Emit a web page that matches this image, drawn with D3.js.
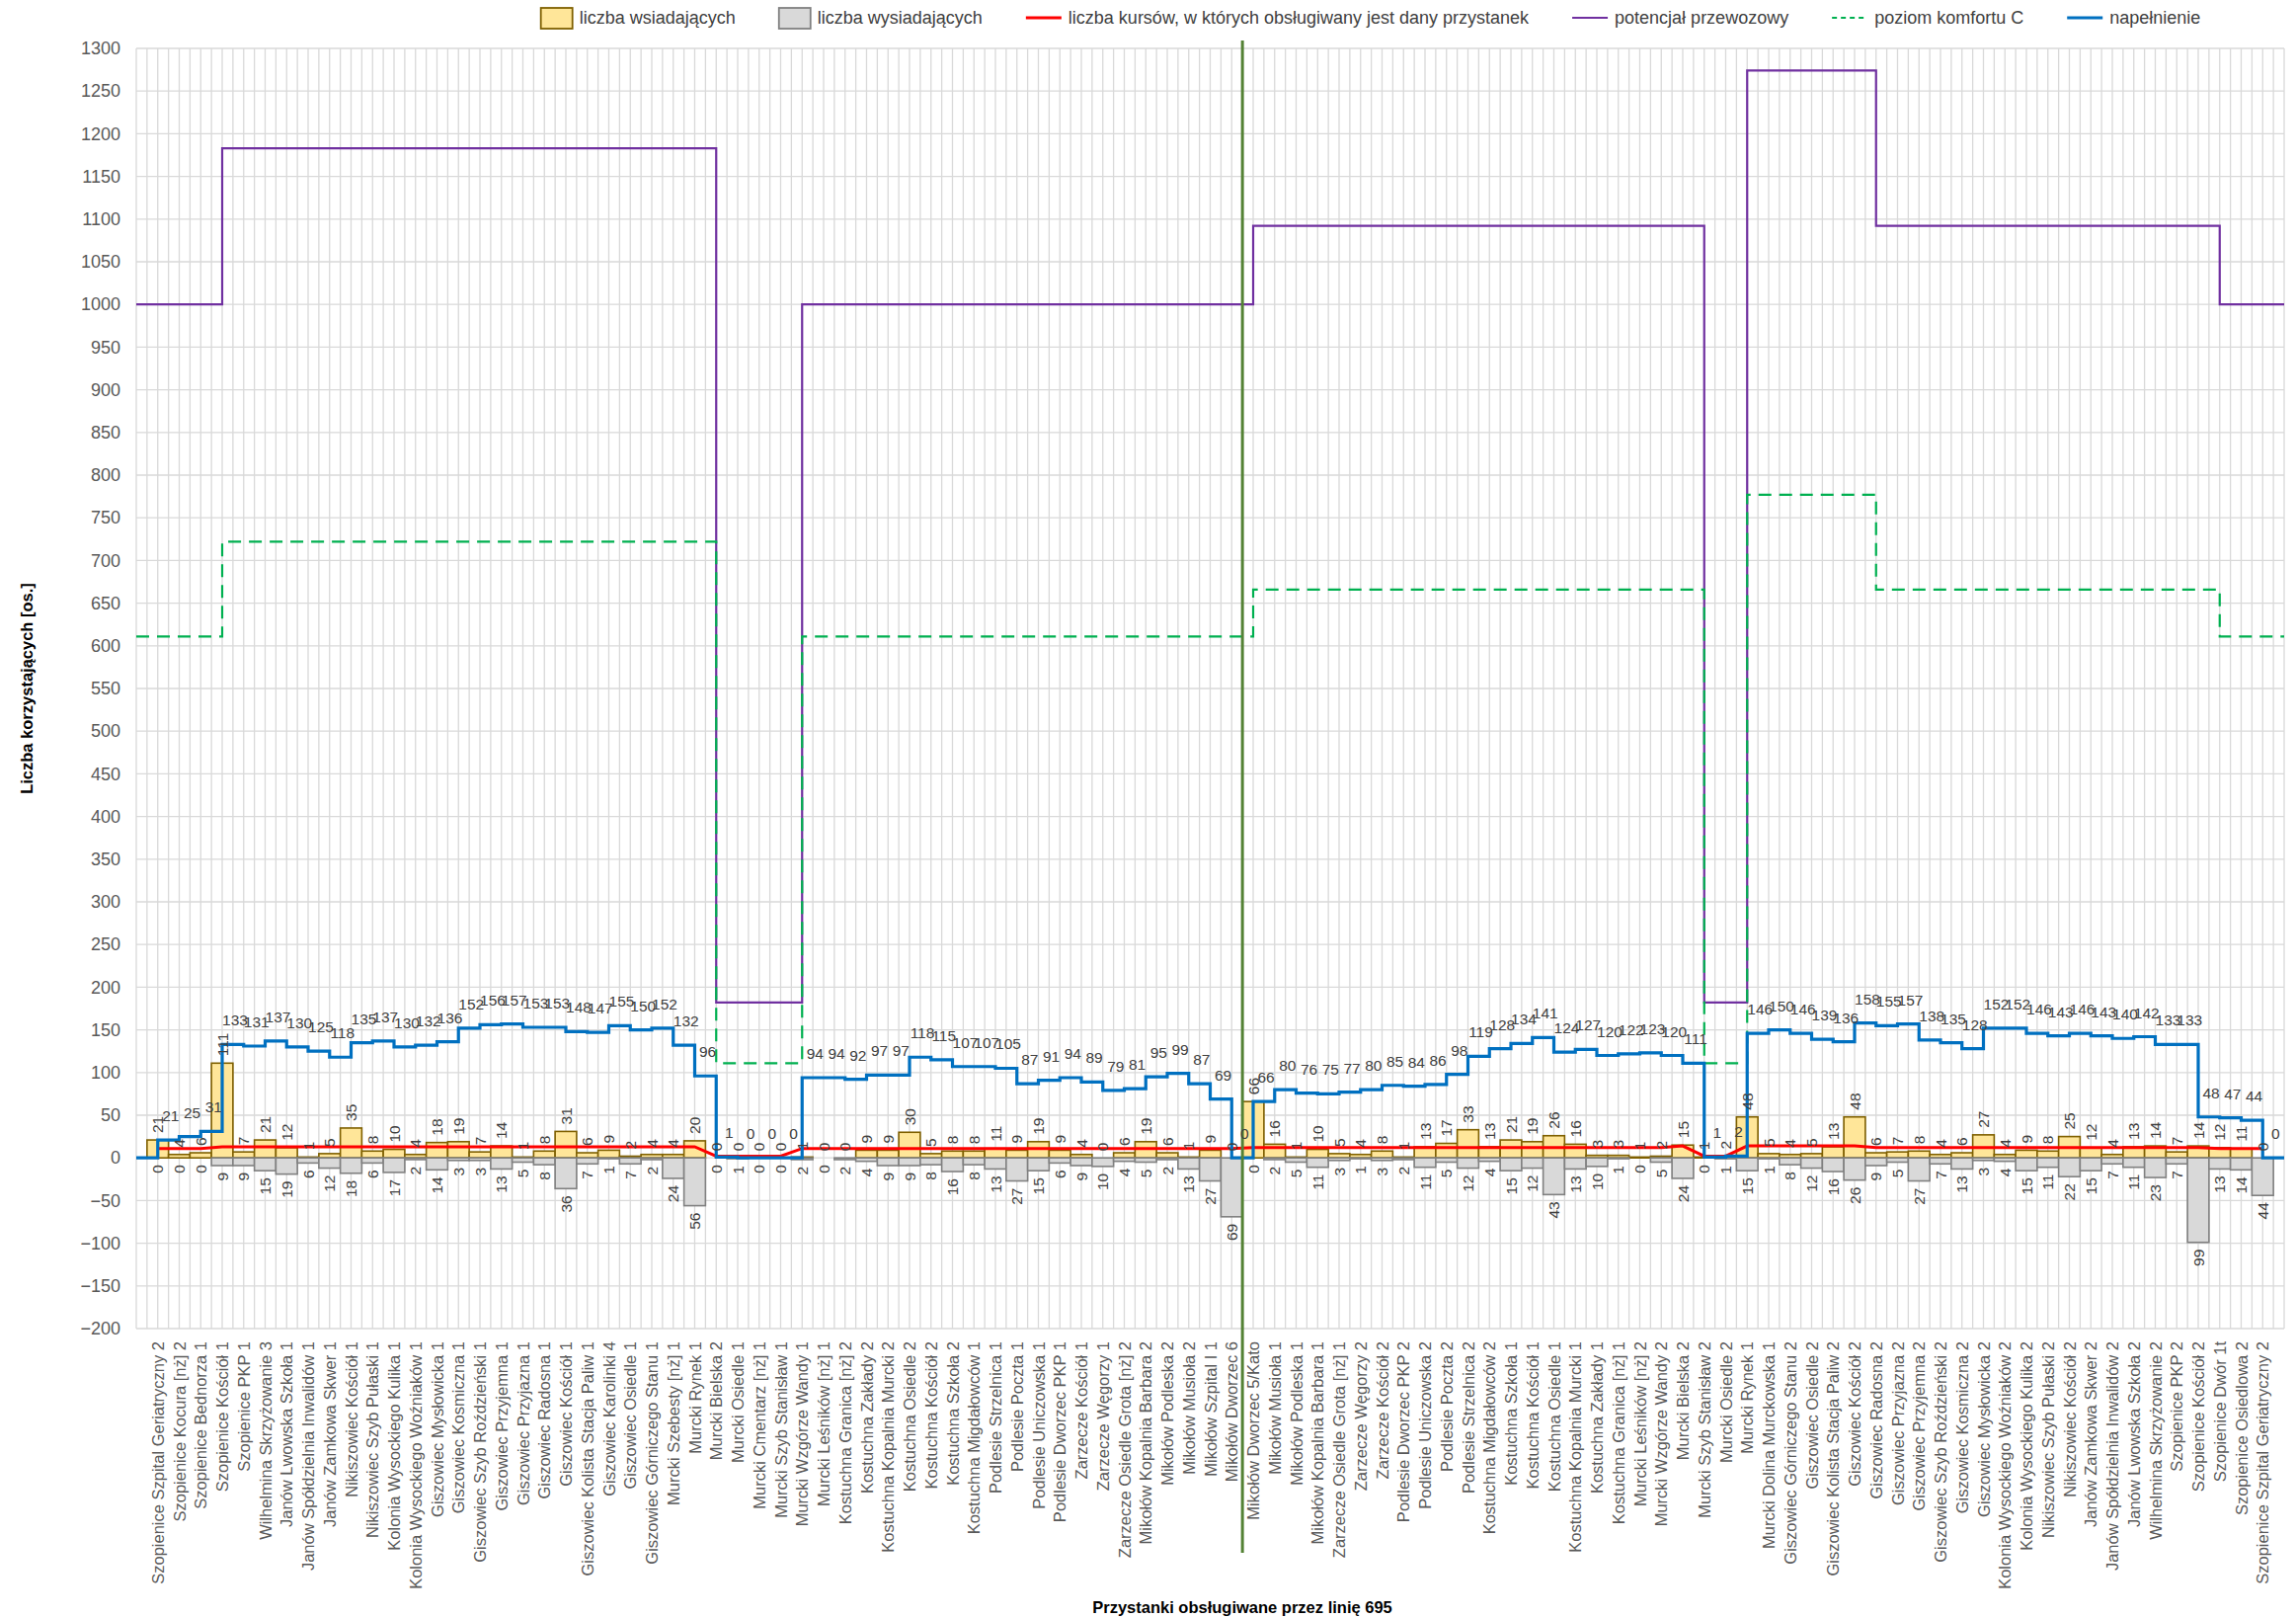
<!DOCTYPE html>
<html>
<head>
<meta charset="utf-8">
<script src="https://cdn.jsdelivr.net/npm/d3@7"></script>
<style>
  body { margin: 0; background: #fff; }
  text { font-family: "Liberation Sans", Arial, sans-serif; }
</style>
</head>
<body>
<svg id="chart"></svg>
<script>
// przystanki linii 695 (kolejnosc na osi X)
const przystanki = [
  "Szopienice Szpital Geriatryczny 2", "Szopienice Kocura [nż] 2", "Szopienice Bednorza 1", "Szopienice Kościół 1",
  "Szopienice PKP 1", "Wilhelmina Skrzyżowanie 3", "Janów Lwowska Szkoła 1", "Janów Spółdzielnia Inwalidów 1",
  "Janów Zamkowa Skwer 1", "Nikiszowiec Kościół 1", "Nikiszowiec Szyb Pułaski 1", "Kolonia Wysockiego Kulika 1",
  "Kolonia Wysockiego Woźniaków 1", "Giszowiec Mysłowicka 1", "Giszowiec Kosmiczna 1", "Giszowiec Szyb Roździeński 1",
  "Giszowiec Przyjemna 1", "Giszowiec Przyjazna 1", "Giszowiec Radosna 1", "Giszowiec Kościół 1",
  "Giszowiec Kolista Stacja Paliw 1", "Giszowiec Karolinki 4", "Giszowiec Osiedle 1", "Giszowiec Górniczego Stanu 1",
  "Murcki Szebesty [nż] 1", "Murcki Rynek 1", "Murcki Bielska 2", "Murcki Osiedle 1",
  "Murcki Cmentarz [nż] 1", "Murcki Szyb Stanisław 1", "Murcki Wzgórze Wandy 1", "Murcki Leśników [nż] 1",
  "Kostuchna Granica [nż] 2", "Kostuchna Zakłady 2", "Kostuchna Kopalnia Murcki 2", "Kostuchna Osiedle 2",
  "Kostuchna Kościół 2", "Kostuchna Szkoła 2", "Kostuchna Migdałowców 1", "Podlesie Strzelnica 1",
  "Podlesie Poczta 1", "Podlesie Uniczowska 1", "Podlesie Dworzec PKP 1", "Zarzecze Kościół 1",
  "Zarzecze Węgorzy 1", "Zarzecze Osiedle Grota [nż] 2", "Mikołów Kopalnia Barbara 2", "Mikołów Podleska 2",
  "Mikołów Musioła 2", "Mikołów Szpital I 1", "Mikołów Dworzec 6", "Mikołów Dworzec 5/Kato",
  "Mikołów Musioła 1", "Mikołów Podleska 1", "Mikołów Kopalnia Barbara 1", "Zarzecze Osiedle Grota [nż] 1",
  "Zarzecze Węgorzy 2", "Zarzecze Kościół 2", "Podlesie Dworzec PKP 2", "Podlesie Uniczowska 2",
  "Podlesie Poczta 2", "Podlesie Strzelnica 2", "Kostuchna Migdałowców 2", "Kostuchna Szkoła 1",
  "Kostuchna Kościół 1", "Kostuchna Osiedle 1", "Kostuchna Kopalnia Murcki 1", "Kostuchna Zakłady 1",
  "Kostuchna Granica [nż] 1", "Murcki Leśników [nż] 2", "Murcki Wzgórze Wandy 2", "Murcki Bielska 2",
  "Murcki Szyb Stanisław 2", "Murcki Osiedle 2", "Murcki Rynek 1", "Murcki Dolina Murckowska 1",
  "Giszowiec Górniczego Stanu 2", "Giszowiec Osiedle 2", "Giszowiec Kolista Stacja Paliw 2", "Giszowiec Kościół 2",
  "Giszowiec Radosna 2", "Giszowiec Przyjazna 2", "Giszowiec Przyjemna 2", "Giszowiec Szyb Roździeński 2",
  "Giszowiec Kosmiczna 2", "Giszowiec Mysłowicka 2", "Kolonia Wysockiego Woźniaków 2", "Kolonia Wysockiego Kulika 2",
  "Nikiszowiec Szyb Pułaski 2", "Nikiszowiec Kościół 2", "Janów Zamkowa Skwer 2", "Janów Spółdzielnia Inwalidów 2",
  "Janów Lwowska Szkoła 2", "Wilhelmina Skrzyżowanie 2", "Szopienice PKP 2", "Szopienice Kościół 2",
  "Szopienice Dwór 1t", "Szopienice Osiedlowa 2", "Szopienice Szpital Geriatryczny 2"
];

const wsiadajacy = [
  21, 4, 6, 111, 7, 21, 12, 1, 5, 35, 8, 10, 4, 18, 19, 7, 14, 1, 8, 31, 6, 9, 2, 4, 4, 20,
  0, 0, 0, 0,
  1, 0, 0, 9, 9, 30, 5, 8, 8, 11, 9, 19, 9, 4, 0, 6, 19, 6, 1, 9, 0,
  66, 16, 1, 10, 5, 4, 8, 1, 13, 17, 33, 13, 21, 19, 26, 16, 3, 3, 1, 2, 15,
  1, 2,
  48, 5, 4, 5, 13, 48, 6, 7, 8, 4, 6, 27, 4, 9, 8, 25, 12, 4, 13, 14, 7, 14, 12, 11, 0
];

const wysiadajacy = [
  0, 0, 0, 9, 9, 15, 19, 6, 12, 18, 6, 17, 2, 14, 3, 3, 13, 5, 8, 36, 7, 1, 7, 2, 24, 56,
  0, 1, 0, 0,
  2, 0, 2, 4, 9, 9, 8, 16, 8, 13, 27, 15, 6, 9, 10, 4, 5, 2, 13, 27, 69,
  0, 2, 5, 11, 3, 1, 3, 2, 11, 5, 12, 4, 15, 12, 43, 13, 10, 1, 0, 5, 24,
  0, 1,
  15, 1, 8, 12, 16, 26, 9, 5, 27, 7, 13, 3, 4, 15, 11, 22, 15, 7, 11, 23, 7, 99, 13, 14, 44
];

const napelnienieStart = 0;
const napelnienie = [
  21, 25, 31, 133, 131, 137, 130, 125, 118, 135, 137, 130, 132, 136, 152, 156, 157, 153, 153, 148, 147, 155, 150, 152, 132, 96,
  1, 0, 0, 0,
  94, 94, 92, 97, 97, 118, 115, 107, 107, 105, 87, 91, 94, 89, 79, 81, 95, 99, 87, 69, 0,
  66, 80, 76, 75, 77, 80, 85, 84, 86, 98, 119, 128, 134, 141, 124, 127, 120, 122, 123, 120, 111,
  1, 2,
  146, 150, 146, 139, 136, 158, 155, 157, 138, 135, 128, 152, 152, 146, 143, 146, 143, 140, 142, 133, 133, 48, 47, 44, 0
];

const kursy = [
  11, 11, 11,
  13, 13, 13, 13, 13, 13, 13, 13, 13, 13, 13, 13, 13, 13, 13, 13, 13, 13, 13, 13, 13, 13, 13,
  2, 2, 2, 2,
  11, 11, 11, 11, 11, 11, 11, 11, 11, 11, 11, 11, 11, 11, 11, 11, 11, 11, 11, 11, 11,
  12, 12, 12, 12, 12, 12, 12, 12, 12, 12, 12, 12, 12, 12, 12, 12, 12, 12, 12, 12, 14,
  2, 2,
  14, 14, 14, 14, 14, 14,
  12, 12, 12, 12, 12, 12, 12, 12, 12, 12, 12, 12, 12, 12, 12, 12,
  11, 11, 11
];

const potencjal = [
  1000, 1000, 1000,
  1183, 1183, 1183, 1183, 1183, 1183, 1183, 1183, 1183, 1183, 1183, 1183, 1183, 1183, 1183, 1183, 1183, 1183, 1183, 1183, 1183, 1183, 1183,
  182, 182, 182, 182,
  1000, 1000, 1000, 1000, 1000, 1000, 1000, 1000, 1000, 1000, 1000, 1000, 1000, 1000, 1000, 1000, 1000, 1000, 1000, 1000, 1000,
  1092, 1092, 1092, 1092, 1092, 1092, 1092, 1092, 1092, 1092, 1092, 1092, 1092, 1092, 1092, 1092, 1092, 1092, 1092, 1092, 1092,
  182, 182,
  1274, 1274, 1274, 1274, 1274, 1274,
  1092, 1092, 1092, 1092, 1092, 1092, 1092, 1092, 1092, 1092, 1092, 1092, 1092, 1092, 1092, 1092,
  1000, 1000, 1000
];

const komfort = [
  611, 611, 611,
  722, 722, 722, 722, 722, 722, 722, 722, 722, 722, 722, 722, 722, 722, 722, 722, 722, 722, 722, 722, 722, 722, 722,
  111, 111, 111, 111,
  611, 611, 611, 611, 611, 611, 611, 611, 611, 611, 611, 611, 611, 611, 611, 611, 611, 611, 611, 611, 611,
  666, 666, 666, 666, 666, 666, 666, 666, 666, 666, 666, 666, 666, 666, 666, 666, 666, 666, 666, 666, 666,
  111, 111,
  777, 777, 777, 777, 777, 777,
  666, 666, 666, 666, 666, 666, 666, 666, 666, 666, 666, 666, 666, 666, 666, 666,
  611, 611, 611
];

const yTicks = d3.range(-200, 1301, 50);
const podzialPrzystanek = 51;   // Mikołów Dworzec 5/Kato - pętla

const W = 2325, H = 1638;
const margin = { top: 49, right: 12, bottom: 293, left: 138 };

const svg = d3.select('#chart').attr('width', W).attr('height', H);
svg.append('rect').attr('width', W).attr('height', H).attr('fill', '#fff');

const idx = przystanki.map((d, i) => i);
const x = d3.scaleBand()
            .domain(idx)
            .range([margin.left, W - margin.right])
            .paddingInner(0)
            .paddingOuter(0.5);
const y = d3.scaleLinear()
            .domain([-200, 1300])
            .range([H - margin.bottom, margin.top]);

const bw = x.bandwidth();
const [x0, x1] = x.range();
const cx = i => x(i) + bw / 2;

// siatka
const grid = svg.append('g').attr('stroke', '#d9d9d9').attr('stroke-width', 1.3);
grid.selectAll('line.v')
    .data(d3.range(x0, x1 + 0.5, bw / 2))
    .enter().append('line')
    .attr('x1', d => d).attr('x2', d => d)
    .attr('y1', y(1300)).attr('y2', y(-200));
grid.selectAll('line.h')
    .data(yTicks)
    .enter().append('line')
    .attr('x1', x0).attr('x2', x1)
    .attr('y1', d => y(d)).attr('y2', d => y(d));

// os Y
const yAxis = svg.append('g')
   .attr('transform', `translate(${x0},0)`)
   .call(d3.axisLeft(y).tickValues(yTicks).tickFormat(d3.format('d')).tickSize(0).tickPadding(16));
yAxis.select('.domain').remove();
yAxis.selectAll('text').attr('font-size', 18).attr('fill', '#595959')
     .style('font-family', '"Liberation Sans", Arial, sans-serif');

// os X - nazwy przystankow
const xAxis = svg.append('g')
   .attr('transform', `translate(0,${y(-200)})`)
   .call(d3.axisBottom(x).tickFormat(i => przystanki[i]).tickSize(0));
xAxis.select('.domain').remove();
xAxis.selectAll('text')
     .attr('y', 0).attr('dy', null)
     .attr('transform', 'translate(6,13) rotate(-90)')
     .style('text-anchor', 'end')
     .style('font-family', '"Liberation Sans", Arial, sans-serif')
     .attr('font-size', 16.5).attr('fill', '#595959');

// slupki: wsiadajacy (dodatnie) i wysiadajacy (ujemne)
svg.append('g').selectAll('rect')
   .data(wsiadajacy)
   .enter().append('rect')
   .attr('x', (d, i) => x(i))
   .attr('y', d => y(d))
   .attr('width', bw)
   .attr('height', d => y(0) - y(d))
   .attr('fill', '#ffe699')
   .attr('stroke', '#7f6000')
   .attr('stroke-width', 1.6);

svg.append('g').selectAll('rect')
   .data(wysiadajacy)
   .enter().append('rect')
   .attr('x', (d, i) => x(i))
   .attr('y', y(0))
   .attr('width', bw)
   .attr('height', d => y(-d) - y(0))
   .attr('fill', '#d9d9d9')
   .attr('stroke', '#808080')
   .attr('stroke-width', 1.6);

// linia kursow
svg.append('path')
   .datum(kursy)
   .attr('fill', 'none')
   .attr('stroke', '#ff0000')
   .attr('stroke-width', 3)
   .attr('d', d3.line().x((d, i) => cx(i)).y(d => y(d)));

// linie schodkowe
function stepPoints(values, start) {
  const pts = [[x0, start]];
  values.forEach((v, i) => pts.push([cx(i), v]));
  pts.push([x1, values[values.length - 1]]);
  return pts;
}
const stepLine = d3.line().x(d => d[0]).y(d => y(d[1])).curve(d3.curveStepAfter);

svg.append('path')
   .datum(stepPoints(potencjal, potencjal[0]))
   .attr('fill', 'none')
   .attr('stroke', '#7030a0')
   .attr('stroke-width', 2.2)
   .attr('d', stepLine);

svg.append('path')
   .datum(stepPoints(komfort, komfort[0]))
   .attr('fill', 'none')
   .attr('stroke', '#00b050')
   .attr('stroke-width', 2.2)
   .attr('stroke-dasharray', '13,8')
   .attr('d', stepLine);

svg.append('path')
   .datum(stepPoints(napelnienie, napelnienieStart))
   .attr('fill', 'none')
   .attr('stroke', '#0070c0')
   .attr('stroke-width', 3.2)
   .attr('d', stepLine);

// linia podzialu kierunkow
svg.append('line')
   .attr('x1', x(podzialPrzystanek)).attr('x2', x(podzialPrzystanek))
   .attr('y1', y(1300) - 8).attr('y2', H - 66)
   .attr('stroke', '#548235')
   .attr('stroke-width', 3);

// etykiety danych
const labels = svg.append('g').attr('font-size', 15.5).attr('fill', '#404040');
labels.selectAll('text.in')
   .data(wsiadajacy)
   .enter().append('text')
   .attr('transform', (d, i) => `translate(${cx(i) + 5.5},${y(d) - 7}) rotate(-90)`)
   .attr('text-anchor', 'start')
   .text(d => d);

labels.selectAll('text.out')
   .data(wysiadajacy)
   .enter().append('text')
   .attr('transform', (d, i) => `translate(${cx(i) + 5.5},${y(-d) + 7}) rotate(-90)`)
   .attr('text-anchor', 'end')
   .text(d => d);

labels.selectAll('text.load')
   .data(napelnienie)
   .enter().append('text')
   .attr('x', (d, i) => cx(i) + 13)
   .attr('y', d => y(d) - 19)
   .attr('text-anchor', 'middle')
   .text(d => d);

// tytuly osi
svg.append('text')
   .attr('transform', `translate(33,${(y(1300) + y(-200)) / 2}) rotate(-90)`)
   .attr('text-anchor', 'middle')
   .attr('font-size', 16.5).attr('font-weight', 'bold')
   .text('Liczba korzystających [os.]');

svg.append('text')
   .attr('x', 1258).attr('y', 1633)
   .attr('text-anchor', 'middle')
   .attr('font-size', 16.5).attr('font-weight', 'bold')
   .text('Przystanki obsługiwane przez linię 695');

// legenda
const legendItems = [
  { name: 'liczba wsiadających', type: 'box', fill: '#ffe699', stroke: '#7f6000' },
  { name: 'liczba wysiadających', type: 'box', fill: '#d9d9d9', stroke: '#808080' },
  { name: 'liczba kursów, w których obsługiwany jest dany przystanek', type: 'line', stroke: '#ff0000', w: 3 },
  { name: 'potencjał przewozowy', type: 'line', stroke: '#7030a0', w: 2.2 },
  { name: 'poziom komfortu C', type: 'line', stroke: '#00b050', w: 2.2, dash: '5,4' },
  { name: 'napełnienie', type: 'line', stroke: '#0070c0', w: 3.2 }
];
const legend = svg.append('g');
const itemGap = 44;
let lx = 0;
legendItems.forEach(it => {
  const g = legend.append('g').attr('transform', `translate(${lx},0)`);
  const sw = it.type === 'box' ? 32 : 36;
  if (it.type === 'box') {
    g.append('rect').attr('x', 0).attr('y', -10).attr('width', sw).attr('height', 21)
     .attr('fill', it.fill).attr('stroke', it.stroke).attr('stroke-width', 1.8);
  } else {
    g.append('line').attr('x1', 0).attr('x2', sw).attr('y1', 0).attr('y2', 0)
     .attr('stroke', it.stroke).attr('stroke-width', it.w)
     .attr('stroke-dasharray', it.dash || null);
  }
  const t = g.append('text').attr('x', sw + 7).attr('y', 6)
     .attr('font-size', 18).attr('fill', '#404040').text(it.name);
  lx += sw + 7 + t.node().getComputedTextLength() + itemGap;
});
const legendWidth = lx - itemGap;
legend.attr('transform', `translate(${1388 - legendWidth / 2},18)`);
</script>
</body>
</html>
